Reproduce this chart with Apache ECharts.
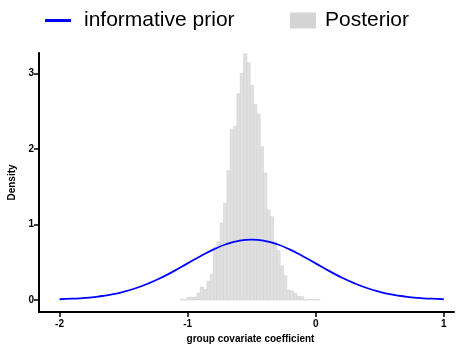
<!DOCTYPE html>
<html>
<head>
<meta charset="utf-8">
<script src="https://cdn.jsdelivr.net/npm/echarts@6/dist/echarts.min.js"></script>
<style>html,body{margin:0;padding:0;background:#fff;}#c{width:462px;height:347px;}</style>
</head>
<body>
<div id="c"></div>
<script>
// Histogram of posterior draws (density per bin)
const binStart = -1.057;
const binWidth = 0.026;
const posteriorDensity = [
  0.009, 0, 0.035, 0.035, 0.035, 0.088, 0.17, 0.14, 0.25, 0.34,
  0.70, 0.77, 1.02, 1.28, 1.71, 2.26, 2.30, 2.73, 3.00, 3.26,
  3.14, 2.84, 2.59, 2.46, 2.03, 1.68, 1.19, 1.10, 0.77, 0.65,
  0.45, 0.32, 0.13, 0.12, 0.09, 0.044, 0.044, 0, 0.009, 0.009,
  0, 0.009
];
// Informative prior curve
const priorX = [-2.0,-1.9,-1.8,-1.7,-1.6,-1.5,-1.4,-1.3,-1.2,-1.1,-1.0,-0.9,-0.8,-0.7,-0.6,-0.5,
  -0.4,-0.3,-0.2,-0.1,0.0,0.1,0.2,0.3,0.4,0.5,0.6,0.7,0.8,0.9,1.0];
const priorY = [0.009,0.016,0.027,0.045,0.071,0.108,0.158,0.222,0.299,0.388,0.484,0.579,0.666,0.737,0.782,0.798,
  0.782,0.737,0.666,0.579,0.484,0.388,0.299,0.222,0.158,0.108,0.071,0.045,0.027,0.016,0.009];
const xTicks = [-2, -1, 0, 1];
const yTicks = [0, 1, 2, 3];
const xTitle = 'group covariate coefficient';
const yTitle = 'Density';
const priorName = 'informative prior';
const postName = 'Posterior';

const histData = posteriorDensity.map((d, i) => [binStart + i * binWidth, binStart + (i + 1) * binWidth, d]);
const lineData = priorX.map((x, i) => [x, priorY[i]]);

const FONT = 'Liberation Sans, Arial, sans-serif';
const chart = echarts.init(document.getElementById('c'), null, {renderer: 'canvas'});
chart.setOption({
  animation: false,
  backgroundColor: '#ffffff',
  textStyle: {fontFamily: FONT},
  legend: [
    {
      left: 45, top: 10, padding: 0, itemWidth: 26, itemHeight: 3, itemGap: 10,
      textStyle: {fontSize: 21, color: '#000', fontFamily: FONT, padding: [0, 0, 0, 8]},
      data: [{name: priorName, icon: 'rect', itemStyle: {color: '#0000ff'}}]
    },
    {
      left: 290, top: 10, padding: 0, itemWidth: 26, itemHeight: 16, itemGap: 10,
      textStyle: {fontSize: 21, color: '#000', fontFamily: FONT, padding: [0, 0, 0, 4]},
      data: [{name: postName, icon: 'rect', itemStyle: {color: '#d4d4d4'}}]
    }
  ],
  grid: {left: 39, right: 8, top: 53, bottom: 35, containLabel: false, outerBoundsMode: 'none'},
  xAxis: {
    type: 'value', min: -2.16, max: 1.08,
    name: xTitle, nameLocation: 'middle', nameGap: 22,
    nameTextStyle: {fontSize: 10, fontWeight: 'bold', color: '#000', fontFamily: FONT, padding: [0, 0, 0, 8]},
    axisLine: {onZero: false, lineStyle: {color: '#000', width: 2}},
    axisTick: {show: true, length: 5, lineStyle: {color: '#000', width: 1.5}, customValues: xTicks},
    axisLabel: {customValues: xTicks, fontSize: 10, fontWeight: 'bold', color: '#000', margin: 7, fontFamily: FONT},
    splitLine: {show: false}
  },
  yAxis: {
    type: 'value', min: -0.16, max: 3.27,
    name: yTitle, nameLocation: 'middle', nameGap: 15, nameRotate: 90,
    nameTextStyle: {fontSize: 10, fontWeight: 'bold', color: '#000', fontFamily: FONT},
    axisLine: {show: true, onZero: false, lineStyle: {color: '#000', width: 2}},
    axisTick: {show: true, length: 5, lineStyle: {color: '#000', width: 1.5}, customValues: yTicks},
    axisLabel: {customValues: yTicks, fontSize: 10, fontWeight: 'bold', color: '#000', margin: 5, fontFamily: FONT},
    splitLine: {show: false}
  },
  series: [
    {
      name: postName,
      type: 'custom',
      itemStyle: {color: '#d4d4d4'},
      encode: {x: [0, 1], y: 2},
      data: histData,
      z: 1,
      renderItem: function (params, api) {
        const p0 = api.coord([api.value(0), api.value(2)]);
        const p1 = api.coord([api.value(1), 0]);
        return {
          type: 'rect',
          shape: {x: p0[0], y: p0[1], width: p1[0] - p0[0], height: p1[1] - p0[1]},
          style: {fill: '#e0e0e0', stroke: '#d2d2d2', lineWidth: 0.6}
        };
      }
    },
    {
      name: priorName,
      type: 'line',
      data: lineData,
      smooth: true,
      showSymbol: false,
      z: 3,
      itemStyle: {color: '#0000ff'},
      lineStyle: {color: '#0000ff', width: 1.8}
    }
  ]
});
</script>
</body>
</html>
